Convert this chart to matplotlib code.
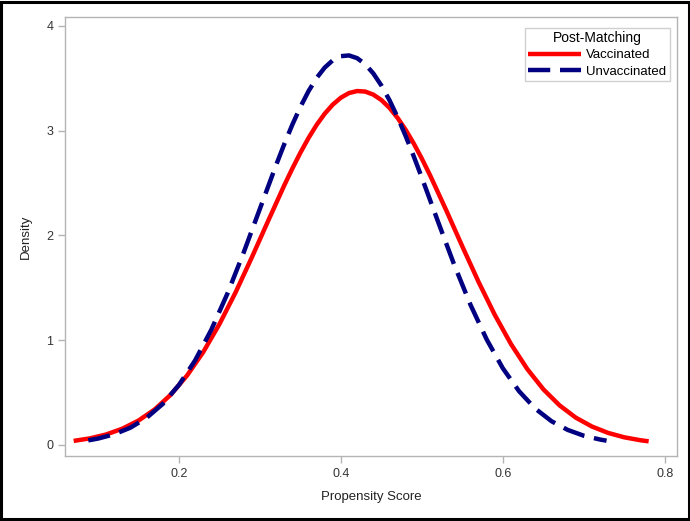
import matplotlib
matplotlib.use("Agg")
import matplotlib.pyplot as plt
from matplotlib.patches import Rectangle

# Density curves
vacc_x = [0.07, 0.09, 0.11, 0.13, 0.15, 0.17, 0.19, 0.21, 0.23, 0.25, 0.27, 0.29,
          0.31, 0.33, 0.34, 0.35, 0.36, 0.37, 0.38, 0.39, 0.40, 0.41, 0.42, 0.43,
          0.44, 0.45, 0.46, 0.47, 0.48, 0.49, 0.50, 0.51, 0.53,
          0.55, 0.57, 0.59, 0.61, 0.63, 0.65, 0.67, 0.69, 0.71, 0.73, 0.75, 0.77, 0.78]
vacc_y = [0.039, 0.063, 0.100, 0.155, 0.233, 0.339, 0.481, 0.663, 0.887, 1.154,
          1.458, 1.791, 2.137, 2.478, 2.639, 2.791, 2.931, 3.056, 3.163, 3.250,
          3.316, 3.360, 3.379, 3.374, 3.345, 3.293, 3.218, 3.122, 3.008, 2.877,
          2.732, 2.576, 2.241, 1.894, 1.556, 1.242, 0.963, 0.726, 0.531,
          0.378, 0.261, 0.176, 0.115, 0.073, 0.045, 0.035]

unvacc_x = [0.088, 0.10, 0.12, 0.14, 0.16, 0.18, 0.20, 0.22, 0.24, 0.26, 0.28, 0.30,
            0.32, 0.33, 0.34, 0.35, 0.36, 0.37, 0.38, 0.39, 0.40, 0.41, 0.42, 0.43,
            0.44, 0.45, 0.46, 0.47, 0.48, 0.49, 0.50, 0.52, 0.54,
            0.56, 0.58, 0.60, 0.62, 0.64, 0.66, 0.68, 0.70, 0.72, 0.728]
unvacc_y = [0.044, 0.061, 0.102, 0.165, 0.259, 0.392, 0.573, 0.808, 1.101, 1.448,
            1.839, 2.256, 2.673, 2.871, 3.058, 3.228, 3.378, 3.504, 3.603, 3.673,
            3.712, 3.719, 3.693, 3.635, 3.547, 3.431, 3.291, 3.128, 2.948, 2.754,
            2.550, 2.130, 1.718, 1.338, 1.007, 0.731, 0.513, 0.347, 0.227,
            0.144, 0.088, 0.052, 0.041]

x_ticks = [0.2, 0.4, 0.6, 0.8]
y_ticks = [0, 1, 2, 3, 4]

plt.rcParams["font.family"] = ["Liberation Sans", "DejaVu Sans"]

fig = plt.figure(figsize=(6.9, 5.21), dpi=100)
ax = fig.add_axes([0.0942, 0.1248, 0.887, 0.8426])

ax.plot(vacc_x, vacc_y, color="#ff0000", lw=3.2, label="Vaccinated",
        solid_capstyle="butt", solid_joinstyle="round")
ax.plot(unvacc_x, unvacc_y, color="#000080", lw=3.2, dashes=(5, 2.2),
        label="Unvaccinated", dash_capstyle="butt", dash_joinstyle="round")

ax.set_xlim(0.0593, 0.815)
ax.set_ylim(-0.105, 4.086)
ax.set_xticks(x_ticks)
ax.set_xticklabels([str(t) for t in x_ticks])
ax.set_yticks(y_ticks)

grey = "#b4b4b4"
for s in ax.spines.values():
    s.set_color(grey)
    s.set_linewidth(1.0)
ax.tick_params(colors=grey, labelcolor="#333333", labelsize=9, length=5, width=1)

ax.set_xlabel("Propensity Score", fontsize=9.5, color="#222222", labelpad=8)
ax.set_ylabel("Density", fontsize=9.5, color="#222222", labelpad=10)

leg = ax.legend(title="Post-Matching", loc="upper right", fontsize=9.5,
                title_fontsize=10, fancybox=False, framealpha=1,
                edgecolor="#d0d0d0", handlelength=4.0, handletextpad=0.4,
                borderpad=0.25, labelspacing=0.3, bbox_to_anchor=(0.999, 0.99))
leg.get_frame().set_linewidth(1.0)

# outer black border around the whole picture
fig.patches.append(Rectangle((0.002, 0.003), 0.996, 0.994, transform=fig.transFigure,
                             fill=False, edgecolor="black", lw=2.2))

fig.savefig("out.png", dpi=100)
